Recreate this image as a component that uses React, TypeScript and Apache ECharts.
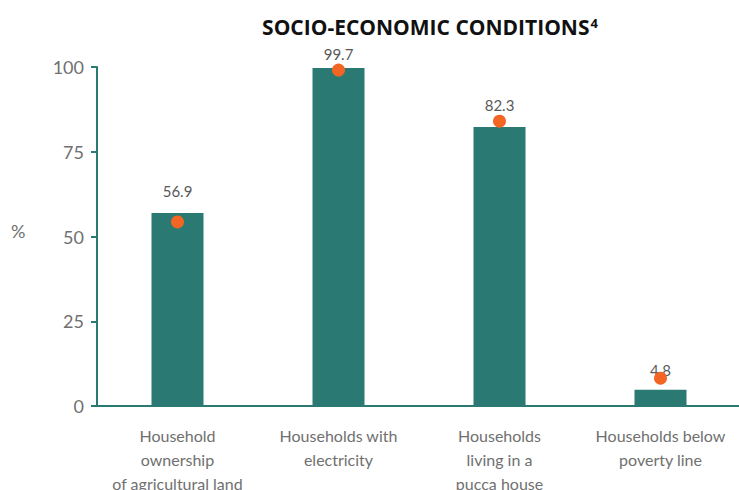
import React, { useEffect, useRef } from "react";
import * as echarts from "echarts";

const categories = [
  "Household\nownership\nof agricultural land",
  "Households with\nelectricity",
  "Households\nliving in a\npucca house",
  "Households below\npoverty line",
];
const barValues = [56.9, 99.7, 82.3, 4.8];
const dotValues = [54.3, 99.1, 84.0, 8.2];
const labelDistances = [15, 7, 15, 12];
const yTicks = [0, 25, 50, 75, 100];

const TEAL = "#2a7a73";
const ORANGE = "#f26522";
const GRAY = "#707070";
const FONT = "Lato, 'Open Sans', sans-serif";
const TITLE_FONT = "'Open Sans', Lato, sans-serif";

export default function App() {
  const ref = useRef<HTMLDivElement>(null);
  useEffect(() => {
    document.body.style.margin = "0";
    const chart = echarts.init(ref.current!, undefined, { renderer: "svg" });
    chart.setOption({
      animation: false,
      textStyle: { fontFamily: FONT },
      title: {
        text: "{t|SOCIO-ECONOMIC CONDITIONS}{s|4}",
        left: 425,
        top: 11,
        textAlign: "center",
        textStyle: {
          rich: {
            t: { fontSize: 21, fontWeight: "bold", color: "#111", fontFamily: TITLE_FONT },
            s: { fontSize: 13, fontWeight: "bold", color: "#111", fontFamily: TITLE_FONT, verticalAlign: "top", padding: [0, 0, 9, 1] },
          },
        },
      },
      graphic: [
        {
          type: "text",
          left: 11,
          top: 222,
          style: { text: "%", fontSize: 18, fill: GRAY, fontFamily: FONT },
        },
      ],
      grid: { left: 97, top: 67, width: 644, height: 339, containLabel: false, outerBoundsMode: "none" },
      xAxis: {
        type: "category",
        data: categories,
        axisLine: { lineStyle: { color: TEAL, width: 2 } },
        axisTick: { show: false },
        axisLabel: {
          color: GRAY,
          fontSize: 16,
          lineHeight: 24,
          margin: 17,
          interval: 0,
          fontFamily: FONT,
        },
      },
      yAxis: {
        type: "value",
        min: 0,
        max: 100,
        interval: 25,
        axisLine: { show: true, lineStyle: { color: TEAL, width: 2 } },
        axisTick: { show: true, length: 6, lineStyle: { color: TEAL, width: 2 } },
        splitLine: { show: false },
        axisLabel: {
          color: GRAY,
          fontSize: 18,
          margin: 13,
          fontFamily: FONT,
          formatter: (v: number) => (yTicks.includes(v) ? String(v) : ""),
        },
      },
      series: [
        {
          type: "bar",
          data: barValues.map((v, i) => ({
            value: v,
            label: { distance: labelDistances[i] },
          })),
          barWidth: 52,
          itemStyle: { color: TEAL },
          label: {
            show: true,
            position: "top",
            color: "#595959",
            fontSize: 15,
            fontFamily: FONT,
          },
        },
        {
          type: "scatter",
          data: dotValues,
          symbolSize: 13,
          itemStyle: { color: ORANGE, opacity: 1 },
          z: 5,
        },
      ],
    });
    return () => chart.dispose();
  }, []);
  return <div ref={ref} style={{ width: 739, height: 490 }} />;
}
